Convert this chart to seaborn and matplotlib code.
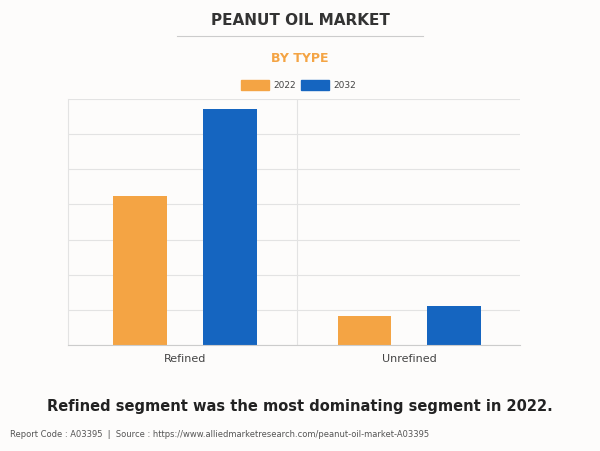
import matplotlib
matplotlib.use('Agg')
import matplotlib.pyplot as plt
import pandas as pd
import seaborn as sns

categories = ['Refined', 'Unrefined']
years = ['2022', '2032']
values_2022 = [4.24, 0.83]
values_2032 = [6.72, 1.11]

df = pd.DataFrame({
    'type': categories * 2,
    'year': [years[0]] * 2 + [years[1]] * 2,
    'value': values_2022 + values_2032,
})

bg = '#fdfcfb'
fig = plt.figure(figsize=(6, 4.52), dpi=100, facecolor=bg)
ax = fig.add_axes([0.113, 0.2345, 0.753, 0.544], facecolor=bg)

sns.barplot(data=df, x='type', y='value', hue='year', order=categories,
            palette=['#F4A444', '#1565C0'], width=0.8, gap=0.4,
            saturation=1, legend=False, ax=ax)

ax.set_xlim(-0.52, 1.49)
ax.set_ylim(0, 7)
ax.set_yticks(range(8))
ax.set_yticklabels([])
ax.tick_params(axis='y', length=0)
ax.tick_params(axis='x', length=0, labelsize=8, colors='#444444', pad=6)
ax.grid(axis='y', color='#e3e3e3', linewidth=0.8)
ax.set_axisbelow(True)
ax.axvline(0.5, color='#e3e3e3', linewidth=0.8, zorder=0)
ax.set_xlabel('')
ax.set_ylabel('')
for s in ['top', 'right']:
    ax.spines[s].set_visible(False)
ax.spines['left'].set_color('#e3e3e3')
ax.spines['bottom'].set_color('#cccccc')

fig.text(0.5, 0.955, 'PEANUT OIL MARKET', ha='center', va='center',
         fontsize=11, fontweight='bold', color='#333333')
fig.add_artist(plt.Line2D([177 / 600, 423 / 600], [1 - 37 / 452] * 2,
                          color='#cccccc', linewidth=0.8))
fig.text(0.5, 1 - 58 / 452, 'BY TYPE', ha='center', va='center',
         fontsize=9, fontweight='bold', color='#F4A444')

# legend
for i, (yr, c) in enumerate(zip(years, ['#F4A444', '#1565C0'])):
    x0 = (241 + i * 60) / 600
    fig.patches.append(plt.Rectangle((x0, 1 - 91 / 452), 28 / 600, 10 / 452,
                                     transform=fig.transFigure, color=c))
    fig.text(x0 + 32 / 600, 1 - 86 / 452, yr, va='center', fontsize=6.5,
             color='#444444')

fig.text(0.5, 1 - 407 / 452,
         'Refined segment was the most dominating segment in 2022.',
         ha='center', va='center', fontsize=10.5, fontweight='bold',
         color='#222222')
fig.text(10 / 600, 1 - 435 / 452,
         'Report Code : A03395  |  Source : https://www.alliedmarketresearch.com/peanut-oil-market-A03395',
         va='center', fontsize=6, color='#555555')

fig.savefig('out.png', dpi=100, facecolor=bg)
